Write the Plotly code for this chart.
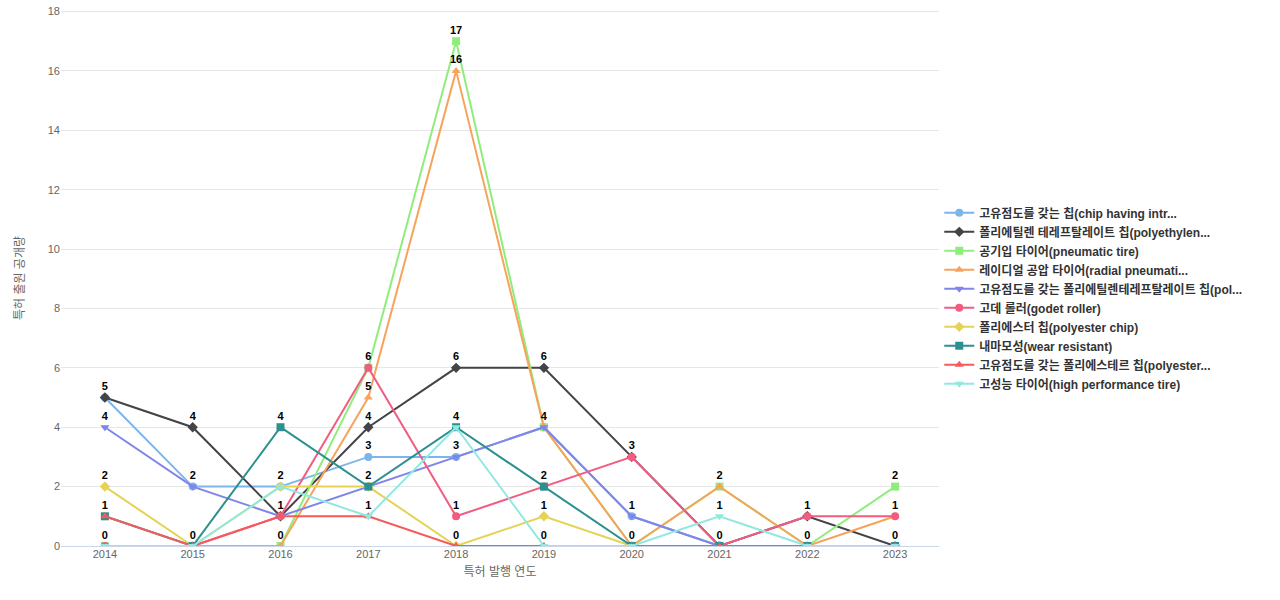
import plotly.graph_objects as go

years = ["2014", "2015", "2016", "2017", "2018", "2019", "2020", "2021", "2022", "2023"]

names = [
    "고유점도를 갖는 칩(chip having intr...",
    "폴리에틸렌 테레프탈레이트 칩(polyethylen...",
    "공기입 타이어(pneumatic tire)",
    "레이디얼 공압 타이어(radial pneumati...",
    "고유점도를 갖는 폴리에틸렌테레프탈레이트 칩(pol...",
    "고데 롤러(godet roller)",
    "폴리에스터 칩(polyester chip)",
    "내마모성(wear resistant)",
    "고유점도를 갖는 폴리에스테르 칩(polyester...",
    "고성능 타이어(high performance tire)",
]

chip_iv = [5, 2, 2, 3, 3, 4, 1, 0, 0, 0]
pet_chip = [5, 4, 1, 4, 6, 6, 3, 0, 1, 0]
pneumatic = [0, 0, 0, 6, 17, 4, 0, 2, 0, 2]
radial = [0, 0, 0, 5, 16, 4, 0, 2, 0, 1]
pet_iv = [4, 2, 1, 2, 3, 4, 1, 0, 0, 0]
godet = [0, 0, 1, 6, 1, 2, 3, 0, 1, 1]
polyester = [2, 0, 2, 2, 0, 1, 0, 0, 0, 0]
wear = [1, 0, 4, 2, 4, 2, 0, 0, 0, 0]
polyester_iv = [1, 0, 1, 1, 0, 0, 0, 0, 0, 0]
high_perf = [0, 0, 2, 1, 4, 0, 0, 1, 0, 0]

series = [chip_iv, pet_chip, pneumatic, radial, pet_iv, godet, polyester, wear, polyester_iv, high_perf]
colors = ["#7cb5ec", "#434348", "#90ed7d", "#f7a35c", "#8085e9",
          "#f15c80", "#e4d354", "#2b908f", "#f45b5b", "#91e8e1"]
symbols = ["circle", "diamond", "square", "triangle-up", "triangle-down",
           "circle", "diamond", "square", "triangle-up", "triangle-down"]

FONT = "Liberation Sans, Noto Sans CJK KR, sans-serif"

fig = go.Figure()
for name, vals, c, s in zip(names, series, colors, symbols):
    fig.add_trace(go.Scatter(
        x=years, y=vals, name=name, mode="lines+markers",
        line=dict(color=c, width=2),
        marker=dict(color=c, symbol=s, size=8),
    ))

# one data label per distinct (year, value)
lx, ly = [], []
seen = set()
for vals in series:
    for yr, v in zip(years, vals):
        if (yr, v) not in seen:
            seen.add((yr, v))
            lx.append(yr)
            ly.append(v)
fig.add_trace(go.Scatter(
    x=lx, y=ly, mode="markers+text", text=[str(v) for v in ly],
    marker=dict(size=6, opacity=0),
    textposition="top center", showlegend=False, hoverinfo="skip",
    textfont=dict(family=FONT, size=11, color="#000000", weight="bold"),
))

fig.update_layout(
    width=1280, height=600,
    margin=dict(l=61, r=341, t=10, b=54),
    plot_bgcolor="white", paper_bgcolor="white",
    font=dict(family=FONT, size=11, color="#666666"),
    showlegend=True,
    legend=dict(
        x=1.0003, y=0.462, xanchor="left", yanchor="middle",
        font=dict(family=FONT, size=12, color="#333333", weight="bold"),
        itemwidth=30, tracegroupgap=0,
    ),
    xaxis=dict(
        type="category", range=[-0.5, 9.5], automargin=False,
        title=dict(text="특허 발행 연도", font=dict(size=12, color="#666666"), standoff=8),
        showgrid=False, ticks="", showline=False,
        tickfont=dict(size=11, color="#666666"),
    ),
    yaxis=dict(
        range=[0, 18.05], tick0=0, dtick=2, automargin=False,
        ticklabeloverflow="allow",
        title=dict(text="특허 출원 공개량", font=dict(size=12, color="#666666"), standoff=20),
        gridcolor="#e6e6e6", zeroline=True, zerolinecolor="#ccd6eb", zerolinewidth=1,
        tickfont=dict(size=11, color="#666666"),
    ),
)

fig.write_html("out.html", config={"displayModeBar": False},
               post_script="document.body.style.margin='0';")
